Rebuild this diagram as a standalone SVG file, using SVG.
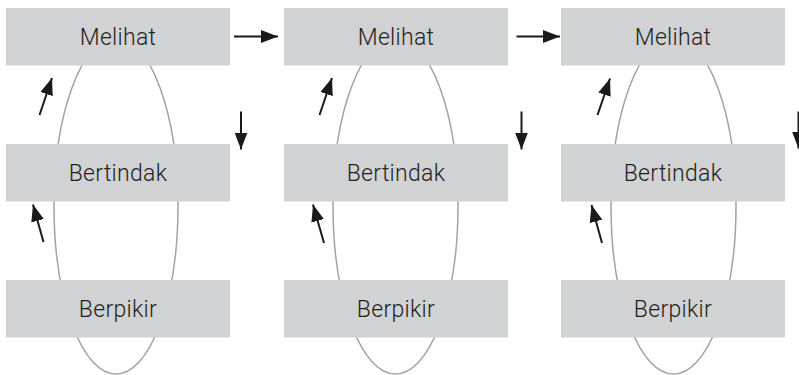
<svg xmlns="http://www.w3.org/2000/svg" width="799" height="375" viewBox="0 0 799 375">
<defs>
<style>
.box{fill:#d1d2d4}
.lbl{font-family:Roboto,"Liberation Sans",sans-serif;font-size:23px;font-weight:300;letter-spacing:0.3px;fill:#231f20;text-anchor:middle}
.loop{fill:none;stroke:#a3a3a3;stroke-width:1.5}
.arr{stroke:#1a1a1a;stroke-width:2;fill:none;marker-end:url(#ah)}
</style>
<marker id="ah" markerUnits="userSpaceOnUse" markerWidth="17" markerHeight="13" refX="17" refY="6.5" orient="auto" viewBox="0 0 17 13">
<path d="M0,0 L17,6.5 L0,13 Z" fill="#1a1a1a"/>
</marker>
</defs>
<rect width="799" height="375" fill="#ffffff"/>
<g id="loops">
<ellipse class="loop" cx="116" cy="206" rx="62" ry="168"/>
<ellipse class="loop" cx="395.5" cy="206" rx="62.5" ry="168"/>
<ellipse class="loop" cx="673.5" cy="206" rx="62.5" ry="168"/>
</g>
<g id="c1-melihat"><rect class="box" x="6" y="8" width="224" height="57.5"/><text class="lbl" x="118" y="45">Melihat</text></g>
<g id="c1-bertindak"><rect class="box" x="6" y="144" width="224" height="57.5"/><text class="lbl" x="118" y="181">Bertindak</text></g>
<g id="c1-berpikir"><rect class="box" x="6" y="280" width="224" height="57.5"/><text class="lbl" x="118" y="317">Berpikir</text></g>
<g id="c2-melihat"><rect class="box" x="284" y="8" width="224" height="57.5"/><text class="lbl" x="396" y="45">Melihat</text></g>
<g id="c2-bertindak"><rect class="box" x="284" y="144" width="224" height="57.5"/><text class="lbl" x="396" y="181">Bertindak</text></g>
<g id="c2-berpikir"><rect class="box" x="284" y="280" width="224" height="57.5"/><text class="lbl" x="396" y="317">Berpikir</text></g>
<g id="c3-melihat"><rect class="box" x="561" y="8" width="224" height="57.5"/><text class="lbl" x="673" y="45">Melihat</text></g>
<g id="c3-bertindak"><rect class="box" x="561" y="144" width="224" height="57.5"/><text class="lbl" x="673" y="181">Bertindak</text></g>
<g id="c3-berpikir"><rect class="box" x="561" y="280" width="224" height="57.5"/><text class="lbl" x="673" y="317">Berpikir</text></g>
<g id="connectors">
<line class="arr" x1="234" y1="36.5" x2="278" y2="36.5"/>
<line class="arr" x1="516.5" y1="36.5" x2="560" y2="36.5"/>
<line class="arr" x1="39.5" y1="115" x2="52" y2="78"/>
<line class="arr" x1="319.5" y1="115" x2="332" y2="78"/>
<line class="arr" x1="597.5" y1="115" x2="610" y2="78.5"/>
<line class="arr" x1="43.5" y1="242" x2="33" y2="204.5"/>
<line class="arr" x1="324" y1="243" x2="313" y2="204.5"/>
<line class="arr" x1="602" y1="243" x2="591.5" y2="205"/>
<line class="arr" x1="241" y1="111.5" x2="241" y2="149.5"/>
<line class="arr" x1="521.5" y1="111.5" x2="521.5" y2="149.5"/>
<line class="arr" x1="798.5" y1="111.5" x2="798.5" y2="148.5"/>
</g>
</svg>
